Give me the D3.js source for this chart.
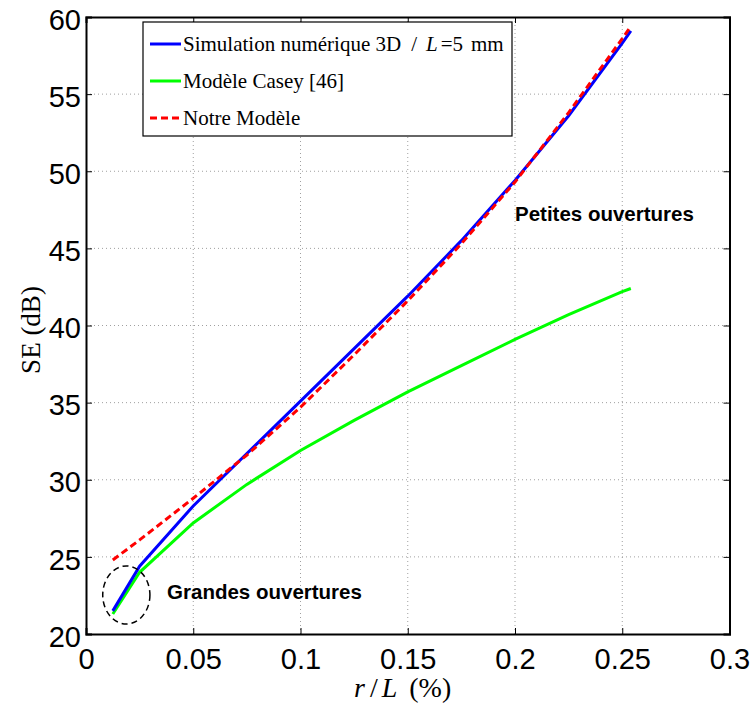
<!DOCTYPE html>
<html><head><meta charset="utf-8">
<script src="https://cdn.jsdelivr.net/npm/d3@7"></script>
<style>body{margin:0;background:#fff}</style>
</head><body>
<svg id="c" width="753" height="709"></svg>
<script>
const xs = [0.0125, 0.025, 0.05, 0.075, 0.1, 0.125, 0.15, 0.175, 0.2, 0.225, 0.25, 0.254];
const simulation = [21.5, 24.4, 28.3, 31.7, 35.1, 38.5, 41.9, 45.5, 49.4, 53.6, 58.3, 59.1];
const casey = [21.3, 24.0, 27.2, 29.7, 31.9, 33.85, 35.7, 37.4, 39.1, 40.7, 42.2, 42.4];
const notre = [24.8, 26.1, 28.8, 31.6, 34.7, 38.1, 41.6, 45.3, 49.3, 53.8, 58.6, 59.4];
const xTicks = [0, 0.05, 0.1, 0.15, 0.2, 0.25, 0.3];
const yTicks = [20, 25, 30, 35, 40, 45, 50, 55, 60];
const seriesNames = ["Simulation numérique 3D / L=5 mm", "Modèle Casey [46]", "Notre Modèle"];

const L = 86, R = 729.5, T = 17, B = 634;
const svg = d3.select("#c");
const x = d3.scaleLinear().domain([0, 0.3]).range([L, R]);
const y = d3.scaleLinear().domain([20, 60]).range([B, T]);

// grid
const g = svg.append("g");
g.selectAll(".gx").data(xTicks.slice(1, -1)).join("line")
  .attr("x1", d => x(d)).attr("x2", d => x(d)).attr("y1", T).attr("y2", B)
  .attr("stroke", "#888").attr("stroke-width", 0.8).attr("stroke-dasharray", "1,3");
g.selectAll(".gy").data(yTicks.slice(1, -1)).join("line")
  .attr("y1", d => y(d)).attr("y2", d => y(d)).attr("x1", L).attr("x2", R)
  .attr("stroke", "#888").attr("stroke-width", 0.8).attr("stroke-dasharray", "1,3");

// axes
const fmt = d => d === 0 ? "0" : String(d);
const ax = svg.append("g").attr("transform", `translate(0,${B})`)
  .call(d3.axisBottom(x).tickValues(xTicks).tickSize(-6).tickPadding(14).tickFormat(fmt));
const ay = svg.append("g").attr("transform", `translate(${L},0)`)
  .call(d3.axisLeft(y).tickValues(yTicks).tickSize(-6).tickPadding(5).tickFormat(fmt));
const axT = svg.append("g").attr("transform", `translate(0,${T})`)
  .call(d3.axisTop(x).tickValues(xTicks).tickSize(-6).tickFormat(""));
const ayR = svg.append("g").attr("transform", `translate(${R},0)`)
  .call(d3.axisRight(y).tickValues(yTicks).tickSize(-6).tickFormat(""));
[ax, ay, axT, ayR].forEach(a => {
  a.select(".domain").attr("stroke", "#000").attr("stroke-width", 2);
  a.selectAll(".tick line").attr("stroke", "#000").attr("stroke-width", 1);
  a.selectAll("text").attr("font-family", "'Liberation Sans', Arial, sans-serif")
    .attr("font-size", 29).attr("fill", "#000");
});
ay.selectAll(".tick text").attr("dy", "0.42em");
ax.selectAll(".tick text").attr("dy", "0.71em");

// lines
const line = d3.line().x(d => x(d[0])).y(d => y(d[1]));
const mk = vals => xs.map((v, i) => [v, vals[i]]);
svg.append("path").datum(mk(casey)).attr("d", line).attr("fill", "none")
  .attr("stroke", "#00ff00").attr("stroke-width", 3);
svg.append("path").datum(mk(simulation)).attr("d", line).attr("fill", "none")
  .attr("stroke", "#0000ff").attr("stroke-width", 3);
svg.append("path").datum(mk(notre)).attr("d", line).attr("fill", "none")
  .attr("stroke", "#ff0000").attr("stroke-width", 3).attr("stroke-dasharray", "7,4");

// ellipse
svg.append("ellipse").attr("cx", x(0.0188)).attr("cy", y(22.53))
  .attr("rx", x(0.0188 + 0.011) - x(0.0188)).attr("ry", y(22.53) - y(22.53 + 1.88))
  .attr("fill", "none").attr("stroke", "#000").attr("stroke-width", 1.5).attr("stroke-dasharray", "6,4");

// annotations
svg.append("text").attr("x", x(0.2)).attr("y", y(46.8)).text("Petites ouvertures")
  .attr("font-family", "'Liberation Sans', Arial, sans-serif").attr("font-weight", "bold").attr("font-size", 20.5);
svg.append("text").attr("x", x(0.0378)).attr("y", y(22.27)).text("Grandes ouvertures")
  .attr("font-family", "'Liberation Sans', Arial, sans-serif").attr("font-weight", "bold").attr("font-size", 20.5);

// axis titles
const serif = "'Liberation Serif', 'Times New Roman', serif";
const xt = svg.append("text").attr("x", 354).attr("y", 697)
  .attr("font-family", serif).attr("font-size", 28);
xt.append("tspan").attr("font-style", "italic").text("r");
xt.append("tspan").attr("dx", 5).text("/");
xt.append("tspan").attr("dx", 4).attr("font-style", "italic").text("L");
xt.append("tspan").attr("dx", 12).text("(%)");
svg.append("text").attr("transform", `translate(40,${330}) rotate(-90)`).attr("text-anchor", "middle")
  .attr("font-family", serif).attr("font-size", 27).text("SE (dB)");

// legend
const lg = svg.append("g");
lg.append("rect").attr("x", 143).attr("y", 22).attr("width", 369).attr("height", 114)
  .attr("fill", "#fff").attr("stroke", "#000").attr("stroke-width", 1.2);
const cols = ["#0000ff", "#00ff00", "#ff0000"];
const rows = [44, 81, 118];
seriesNames.forEach((n, i) => {
  lg.append("line").attr("x1", 150).attr("x2", 181).attr("y1", rows[i]).attr("y2", rows[i])
    .attr("stroke", cols[i]).attr("stroke-width", 3).attr("stroke-dasharray", i === 2 ? "7,4" : null);
  const t = lg.append("text").attr("x", 183).attr("y", rows[i] + 7)
    .attr("font-family", serif).attr("font-size", 21);
  if (i === 0) {
    t.append("tspan").text("Simulation numérique 3D");
    t.append("tspan").attr("dx", 10).text("/");
    t.append("tspan").attr("dx", 9).attr("font-style", "italic").text("L");
    t.append("tspan").attr("dx", 3).text("=5");
    t.append("tspan").attr("dx", 8).text("mm");
  } else t.text(n);
});
</script>
</body></html>
